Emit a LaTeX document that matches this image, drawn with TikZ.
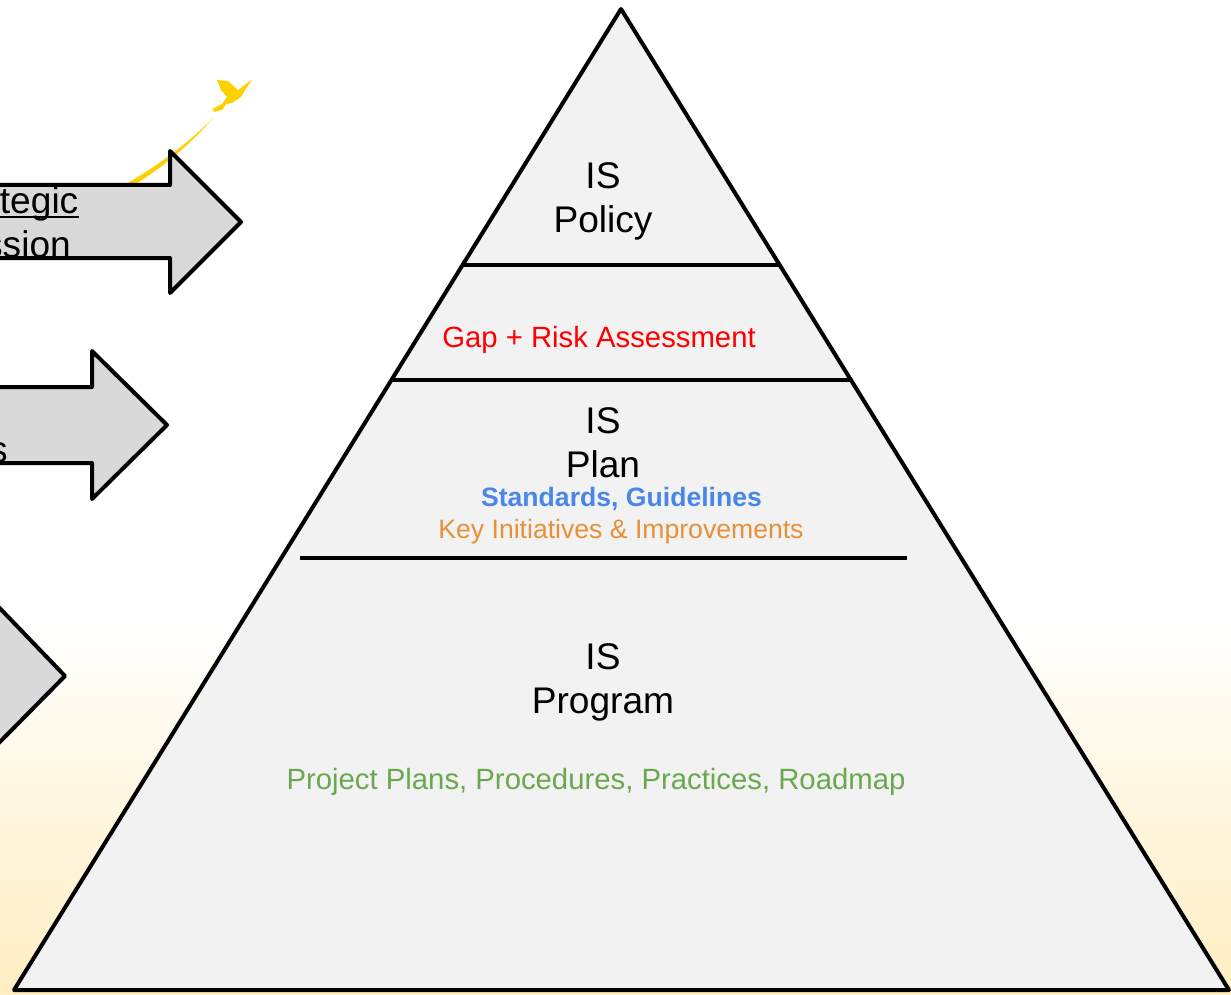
\documentclass[tikz,border=0pt]{standalone}
\usepackage{fontspec}
\setmainfont{Liberation Sans}
\definecolor{bgend}{HTML}{FFEEC2}
\definecolor{birdc}{HTML}{FFD000}
\definecolor{pyr}{HTML}{F2F2F2}
\definecolor{arr}{HTML}{D9D9D9}
\definecolor{gapc}{HTML}{FF0000}
\definecolor{stdc}{HTML}{4A86E8}
\definecolor{keyc}{HTML}{E69138}
\definecolor{projc}{HTML}{6AA84F}
\tikzset{
  outl/.style={draw=black,line width=4pt,line join=round},
  arrowshape/.style={outl,fill=arr},
  divider/.style={draw=black,line width=4pt},
  big/.style={inner sep=0pt,anchor=base,font=\fontsize{37.1}{44}\selectfont},
  small/.style={inner sep=0pt,anchor=base,font=\fontsize{29.3}{35}\selectfont},
  smaller/.style={inner sep=0pt,anchor=base,font=\fontsize{26.6}{32}\selectfont},
}
\begin{document}
\begin{tikzpicture}[x=1pt,y=-1pt]
\useasboundingbox (0,0) rectangle (1231,995);
\clip (0,0) rectangle (1231,995);
\fill[white] (0,0) rectangle (1231,995);
\shade[top color=white,bottom color=bgend,shading angle=0] (0,615) rectangle (1231,995);
% bird
\fill[birdc] (217,80) -- (228,81) -- (238,90) -- (250,81) -- (252,80) -- (245,90) -- (241,97) -- (232,103) -- (226,104) -- (222,110) -- (214,112) -- (212.5,109) -- (222,104) -- (227,97) -- (221,90) -- cycle;
\fill[birdc] (124,185) .. controls (155,168) and (190,142) .. (214,117) .. controls (192,143) and (160,170) .. (132,186) -- cycle;
% arrows
\path[arrowshape] (-10,185) -- (170,185) -- (170,151) -- (241,222) -- (170,293) -- (170,258) -- (-10,258) -- cycle;
\path[arrowshape] (-10,387) -- (92,387) -- (92,351) -- (167,425) -- (92,499) -- (92,463) -- (-10,463) -- cycle;
\path[arrowshape] (-10,598) -- (65,676) -- (-10,752) -- cycle;
% pyramid
\path[outl,fill=pyr] (621,9) -- (1229,990) -- (14,990) -- cycle;
\coordinate (d1a) at (464,265); \coordinate (d1b) at (779,265);
\coordinate (d2a) at (393,379.5); \coordinate (d2b) at (850,379.5);
\coordinate (d3a) at (300,557.5); \coordinate (d3b) at (907,557.5);
\path[divider] (d1a) -- (d1b);
\path[divider] (d2a) -- (d2b);
\path[divider] (d3a) -- (d3b);
% arrow text
\node[big,anchor=base east] (t1) at (78.5,214) {tegic};
\draw[line width=2pt] ([yshift=-3pt]t1.base west) -- ([yshift=-3pt]t1.base east);
\node[big,anchor=base east] (t2) at (71,257) {ssion};
\node[big,anchor=base east] (t3) at (8,462) {s};
% pyramid text
\node[big] (p1) at (603,189) {IS};
\node[big] (p2) at (603,233) {Policy};
\node[small,text=gapc] (gap) at (599,347) {Gap + Risk Assessment};
\node[big] (pl1) at (603,433) {IS};
\node[big] (pl2) at (603,477) {Plan};
\node[smaller,text=stdc,font=\fontsize{26.6}{32}\selectfont\bfseries] (std) at (621.5,506) {Standards, Guidelines};
\node[smaller,text=keyc] (key) at (621,538) {Key Initiatives \& Improvements};
\node[big] (g1) at (603,669) {IS};
\node[big] (g2) at (603,713) {Program};
\node[smaller,text=projc,font=\fontsize{29.3}{35}\selectfont] (proj) at (596,789) {Project Plans, Procedures, Practices, Roadmap};
\end{tikzpicture}
\end{document}
